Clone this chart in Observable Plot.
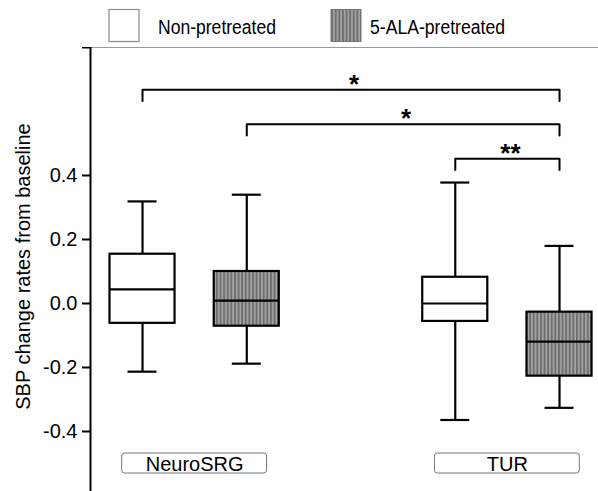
<!DOCTYPE html>
<html><head><meta charset="utf-8">
<script src="https://cdn.jsdelivr.net/npm/d3@7"></script>
<script src="https://cdn.jsdelivr.net/npm/@observablehq/plot@0.6"></script>
<style>
body{margin:0;background:#fff;font-family:"Liberation Sans",Arial,sans-serif;}
#legend{display:block}
#chart svg{display:block}
</style></head><body>
<svg id="legend" width="598" height="47"></svg>
<div id="chart"></div>
<script>
// ---- data ----
const groups = ["NeuroSRG", "TUR"];
const treatments = ["Non-pretreated", "5-ALA-pretreated"];
const boxGroup = ["NeuroSRG", "NeuroSRG", "TUR", "TUR"];
const boxTreatment = ["Non-pretreated", "5-ALA-pretreated", "Non-pretreated", "5-ALA-pretreated"];
const whiskerLow = [-0.213, -0.188, -0.364, -0.326];
const q1 = [-0.062, -0.071, -0.056, -0.227];
const median = [0.044, 0.009, 0.000, -0.119];
const q3 = [0.154, 0.100, 0.082, -0.027];
const whiskerHigh = [0.319, 0.340, 0.378, 0.180];
const yTicks = [-0.4, -0.2, 0.0, 0.2, 0.4];
const compFrom = [0, 1, 2];
const compTo = [3, 3, 3];
const compLabel = ["*", "*", "**"];
const yLabel = "SBP change rates from baseline";

// ---- legend ----
const leg = d3.select("#legend");
const defsL = leg.append("defs");
function addHatch(defs, id) {
  const p = defs.append("pattern").attr("id", id).attr("patternUnits", "userSpaceOnUse")
    .attr("width", 3.6).attr("height", 10);
  p.append("rect").attr("width", 3.6).attr("height", 10).attr("fill", "#a4a4a4");
  p.append("rect").attr("width", 1.9).attr("height", 10).attr("fill", "#6f6f6f");
}
addHatch(defsL, "hatchL");
leg.append("rect").attr("x", 109).attr("y", 9.5).attr("width", 30).attr("height", 32)
  .attr("fill", "white").attr("stroke", "#8a8a8a").attr("stroke-width", 1.2);
leg.append("text").attr("x", 158).attr("y", 33.5).attr("font-size", 20)
  .attr("textLength", 118).attr("lengthAdjust", "spacingAndGlyphs").text(treatments[0]);
leg.append("rect").attr("x", 331).attr("y", 9.5).attr("width", 30).attr("height", 32)
  .attr("fill", "url(#hatchL)").attr("stroke", "#777").attr("stroke-width", 1);
leg.append("text").attr("x", 370).attr("y", 33.5).attr("font-size", 20)
  .attr("textLength", 135).attr("lengthAdjust", "spacingAndGlyphs").text(treatments[1]);

// ---- derived tables ----
const gap = 3; // slots per group (2 boxes + 1 empty)
const boxes = boxGroup.map((g, i) => ({
  group: g, treatment: boxTreatment[i],
  pos: groups.indexOf(g) * gap + treatments.indexOf(boxTreatment[i]),
  low: whiskerLow[i], q1: q1[i], median: median[i], q3: q3[i], high: whiskerHigh[i]
}));
const bw = 0.312, cw = 0.139, gw = 0.695;
const brackets = compFrom.map((f, i) => ({
  x1: boxes[f].pos, x2: boxes[compTo[i]].pos, level: 0.668 - i * 0.108, label: compLabel[i]
}));
const drop = 0.035;
const bracketPath = brackets.flatMap((b, i) => [
  {i, x: b.x1, y: b.level - drop}, {i, x: b.x1, y: b.level},
  {i, x: b.x2, y: b.level}, {i, x: b.x2, y: b.level - drop}
]);
const groupRows = groups.map((g, i) => ({group: g, center: i * gap + 0.5}));

const sw = 2.2;
const chart = Plot.plot({
  width: 598, height: 444,
  marginLeft: 90, marginRight: 0, marginTop: 0, marginBottom: 0,
  x: {domain: [-0.499, 4.374], axis: null},
  y: {domain: [-0.5875, 0.8], axis: null},
  style: {fontFamily: "Liberation Sans, Arial, sans-serif", color: "black", background: "white"},
  marks: [
    Plot.ruleY([0.8], {stroke: "#999", strokeWidth: 1}),
    Plot.axisY([...yTicks, 0.8], {
      tickSize: 8, tickPadding: 5, fontSize: 20, strokeWidth: 2, label: null,
      tickFormat: d => d === 0.8 ? "" : d.toFixed(1)
    }),
    Plot.frame({anchor: "left", strokeWidth: 2}),
    // whiskers
    Plot.ruleX(boxes, {x: "pos", y1: "q3", y2: "high", strokeWidth: sw}),
    Plot.ruleX(boxes, {x: "pos", y1: "low", y2: "q1", strokeWidth: sw}),
    Plot.ruleY(boxes, {y: "high", x1: d => d.pos - cw, x2: d => d.pos + cw, strokeWidth: sw}),
    Plot.ruleY(boxes, {y: "low", x1: d => d.pos - cw, x2: d => d.pos + cw, strokeWidth: sw}),
    // boxes
    Plot.rect(boxes.filter(d => d.treatment === treatments[0]), {
      x1: d => d.pos - bw, x2: d => d.pos + bw, y1: "q1", y2: "q3",
      fill: "white", stroke: "black", strokeWidth: sw
    }),
    Plot.rect(boxes.filter(d => d.treatment === treatments[1]), {
      x1: d => d.pos - bw, x2: d => d.pos + bw, y1: "q1", y2: "q3",
      fill: "url(#hatch)", stroke: "black", strokeWidth: sw
    }),
    Plot.ruleY(boxes, {y: "median", x1: d => d.pos - bw, x2: d => d.pos + bw, strokeWidth: sw}),
    // significance brackets
    Plot.line(bracketPath, {x: "x", y: "y", z: "i", stroke: "black", strokeWidth: 2}),
    Plot.text(brackets, {
      x: d => (d.x1 + d.x2) / 2, y: "level", text: "label",
      lineAnchor: "bottom", dy: 3, dx: 3, fontSize: 26, fontWeight: "bold"
    }),
    // group labels
    Plot.rect(groupRows, {
      x1: d => d.center - gw, x2: d => d.center + gw, y1: () => -0.4688, y2: () => -0.5313,
      rx: 3, fill: "white", stroke: "#777", strokeWidth: 1
    }),
    Plot.text(groupRows, {x: "center", y: () => -0.5, text: "group", fontSize: 20, lineAnchor: "middle", dy: 1}),
    // y label
    Plot.text([yLabel], {
      frameAnchor: "left", rotate: -90, dx: -67, dy: -3, fontSize: 20,
      textAnchor: "middle", lineAnchor: "middle"
    })
  ]
});
const defs = d3.select(chart).insert("defs", ":first-child");
addHatch(defs, "hatch");
document.getElementById("chart").appendChild(chart);
</script>
</body></html>
